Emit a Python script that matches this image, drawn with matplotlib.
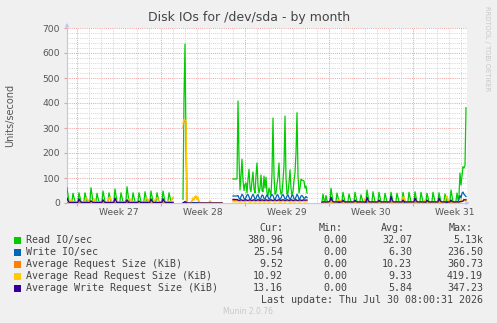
import numpy as np
import matplotlib
matplotlib.use("Agg")
import matplotlib.pyplot as plt
from matplotlib.transforms import blended_transform_factory

# one value every 2 hours, 400 steps, None = no data
read_io = [
    61, 34, 6, 3, 3, 8,  39, 21, 5, 3, 3, 8,  41, 22, 5, 3, 3, 8,
    41, 23, 5, 3, 4, 10,  61, 33, 6, 3, 3, 8,  39, 20, 5, 3, 4, 9,
    48, 26, 5, 3, 3, 8,  41, 22, 5, 3, 4, 10,  56, 30, 6, 3, 3, 8,
    41, 22, 5, 3, 4, 12,  65, 35, 6, 3, 3, 8,  41, 22, 5, 3, 3, 8,
    41, 22, 5, 3, 3, 9,  45, 24, 5, 3, 3, 9,  48, 26, 5, 3, 3, 8,
    41, 22, 5, 3, 3, 9,  48, 26, 5, 3, 3, 8,  41, 22, 5, 3, 3,
] + [None] * 9 + [
    15, 420, 636, 240, 2, 0,
    0, 0, 0, 0, 0, 0, 0, 0, 0, 0, 0, 0, 0, 0, 0, 0, 0,
    0, 0, 0, 0, 0, 0, 0, 0, 0, 0, 0, 0, 0, 0, 0, 0, 0,
] + [None] * 10 + [
    96, 96, 96, 96, 96,  408, 180, 52, 110, 175,  90, 50, 75, 80, 40,
    95, 135, 60, 45, 90,  124, 55, 40, 110, 160,  70, 40, 60, 112, 50,
    45, 108, 60, 103, 40,  30, 60, 45, 30, 120,  340, 110, 35, 40, 75,
    105, 160, 60, 35, 40,  90, 150, 348, 100, 35,  40, 80, 133, 60, 30,
    45, 90, 120, 200, 361,  110, 40, 60, 95, 92,  90, 88, 60, 68, 40,
] + [None] * 14 + [
    5, 36, 12, 4, 30, 10, 3, 3, 10,
    59, 32, 5, 3, 3, 8,  40, 22, 5, 3, 3, 8,  43, 24, 5, 3, 3, 8,
    36, 20, 5, 3, 3, 8,  43, 24, 5, 3, 3, 8,  33, 18, 5, 3, 3, 9,
    52, 28, 5, 3, 3, 8,  45, 25, 5, 3, 3, 8,  43, 24, 5, 3, 3, 8,
    39, 21, 5, 3, 3, 8,  43, 24, 5, 3, 3, 8,  39, 21, 5, 3, 3, 8,
    43, 24, 5, 3, 3, 8,  43, 24, 5, 3, 3, 8,  45, 25, 5, 3, 3, 8,
    43, 24, 5, 3, 3, 8,  39, 21, 5, 3, 3, 8,  43, 24, 5, 3, 3, 8,
    41, 22, 5, 3, 3, 8,  36, 20, 5, 3, 3, 9,  52, 28, 5, 3, 3, 8,
    40, 12, 30, 120, 72, 110, 145, 140, 150, 380.96,
]

write_io = [
    4, 2, 1, 1, 1, 1,  2, 1, 1, 1, 1, 1,  3, 2, 1, 1, 1, 1,
    2, 1, 1, 1, 1, 1,  3, 2, 1, 1, 1, 1,  2, 1, 1, 1, 1, 1,
    3, 2, 1, 1, 1, 1,  2, 1, 1, 1, 1, 1,  4, 2, 1, 1, 1, 1,
    2, 1, 1, 1, 1, 1,  3, 2, 1, 1, 1, 1,  2, 1, 1, 1, 1, 1,
    3, 2, 1, 1, 1, 1,  2, 1, 1, 1, 1, 1,  3, 2, 1, 1, 1, 1,
    2, 1, 1, 1, 1, 1,  3, 2, 1, 1, 1, 1,  2, 1, 1, 1, 1,
] + [None] * 9 + [
    0, 1, 1, 1, 0, 0,
    0, 0, 0, 0, 0, 0, 0, 0, 0, 0, 0, 0, 0, 0, 0, 0, 0,
    0, 0, 0, 0, 0, 0, 0, 0, 0, 0, 0, 0, 0, 0, 0, 0, 0,
] + [None] * 10 + [
    28, 28, 28, 28, 28,  30, 20, 15, 25, 35,  30, 18, 14, 22, 32,
    34, 24, 15, 16, 28,  35, 26, 15, 18, 30,  34, 22, 14, 20, 32,
    30, 18, 15, 26, 33,  24, 15, 18, 28, 34,  30, 18, 14, 22, 33,
    32, 20, 14, 20, 30,  34, 26, 16, 17, 28,  33, 22, 14, 20, 32,
    30, 18, 15, 24, 35,  28, 16, 18, 28, 30,  25, 18, 20, 26, 22,
] + [None] * 14 + [
    2, 4, 2, 2, 3, 2, 2, 2, 3,
    7, 3, 2, 2, 2, 2,  4, 3, 2, 2, 2, 2,  5, 3, 2, 2, 2, 2,
    4, 2, 2, 2, 2, 2,  5, 3, 2, 2, 2, 2,  4, 2, 2, 2, 2, 2,
    7, 3, 2, 2, 2, 2,  4, 3, 2, 2, 2, 2,  5, 3, 2, 2, 2, 2,
    4, 2, 2, 2, 2, 2,  7, 3, 2, 2, 2, 2,  4, 2, 2, 2, 2, 2,
    5, 3, 2, 2, 2, 2,  4, 2, 2, 2, 2, 2,  7, 3, 2, 2, 2, 2,
    4, 2, 2, 2, 2, 2,  5, 3, 2, 2, 2, 2,  4, 2, 2, 2, 2, 2,
    7, 3, 2, 2, 2, 2,  4, 2, 2, 2, 2, 2,  5, 3, 2, 2, 2, 3,
    4, 5, 15, 30, 20, 38, 44, 35, 30, 25.54,
]

avg_req = [
    14, 7, 3, 5, 11, 7,  3, 3, 3, 3, 3, 3,  11, 6, 3, 3, 3, 3,
    7, 15, 17, 10, 4, 3,  6, 4, 5, 14, 8, 3,  3, 3, 3, 3, 3, 3,
    9, 5, 3, 3, 4, 7,  18, 20, 12, 4, 3, 3,  13, 7, 8, 4, 3, 3,
    3, 3, 3, 3, 3, 3,  10, 12, 13, 12, 13, 5,  3, 3, 3, 3, 3, 3,
    6, 3, 3, 3, 3, 3,  5, 15, 17, 12, 4, 3,  11, 6, 3, 3, 10, 17,
    16, 13, 4, 3, 3, 3,  12, 6, 3, 3, 4, 8,  4, 3, 4, 15, 20,
] + [None] * 9 + [
    300, 330, 330, 320, 6, 2,  0, 0, 2, 8, 18, 12,  22, 26, 15, 21, 5, 1,
    0, 0, 0, 0, 0, 0,  0, 0, 2, 7, 4, 0,  0, 0, 0, 0, 0, 0, 0, 0, 0, 0,
] + [None] * 10 + [
    10, 10, 10, 10, 10,  9, 8, 8, 9, 10,  9, 8, 8, 10, 11,
    10, 9, 8, 9, 9,  10, 10, 8, 9, 10,  11, 9, 8, 9, 10,
    10, 8, 9, 10, 10,  9, 8, 9, 10, 11,  9, 9, 8, 9, 10,
    10, 9, 8, 9, 10,  9, 9, 8, 9, 11,  10, 9, 8, 9, 10,
    9, 8, 9, 10, 10,  9, 9, 8, 9, 11,  10, 9, 9, 10, 10,
] + [None] * 14 + [
    3, 4, 3, 3, 3, 3, 3, 3, 5,
    15, 8, 4, 3, 3, 3,  5, 10, 11, 9, 3, 3,  8, 5, 3, 3, 3, 3,
    4, 3, 3, 3, 3, 3,  8, 5, 3, 3, 3, 3,  4, 3, 3, 3, 15, 17,
    20, 9, 4, 3, 3, 3,  4, 3, 3, 3, 3, 3,  8, 5, 3, 3, 3, 3,
    4, 3, 3, 3, 3, 3,  18, 9, 4, 3, 3, 3,  4, 3, 3, 3, 3, 3,
    18, 20, 8, 3, 3, 3,  4, 3, 3, 3, 3, 3,  17, 8, 4, 3, 3, 3,
    4, 3, 3, 3, 10, 5,  8, 5, 3, 3, 3, 3,  4, 3, 3, 3, 3, 3,
    14, 7, 4, 3, 3, 3,  5, 22, 24, 8, 3, 3,  8, 5, 3, 3, 3, 3,
    4, 3, 3, 5, 12, 7, 6, 10, 9, 9.52,
]

avg_read_req = [
    4, 5, 3, 6, 13, 8,  3, 3, 3, 3, 3, 3,  5, 4, 3, 3, 3, 3,
    8, 18, 20, 12, 4, 3,  4, 3, 6, 17, 9, 3,  3, 3, 3, 3, 3, 3,
    5, 3, 3, 3, 4, 8,  22, 24, 15, 4, 3, 3,  4, 6, 10, 4, 3, 3,
    3, 3, 3, 3, 3, 3,  5, 14, 16, 15, 16, 6,  3, 3, 3, 3, 3, 3,
    4, 3, 3, 3, 3, 3,  6, 18, 20, 14, 4, 3,  4, 3, 3, 3, 12, 20,
    19, 16, 5, 3, 3, 3,  4, 3, 3, 3, 5, 9,  4, 3, 5, 18, 24,
] + [None] * 9 + [
    320, 335, 332, 330, 8, 3,  0, 0, 3, 10, 22, 14,  26, 30, 18, 25, 6, 2,
    0, 0, 0, 0, 0, 0,  0, 0, 3, 9, 5, 0,  0, 0, 0, 0, 0, 0, 0, 0, 0, 0,
] + [None] * 10 + [
    5, 5, 5, 5, 5,  6, 4, 3, 4, 6,  5, 4, 3, 5, 7,
    6, 4, 3, 4, 5,  6, 5, 3, 4, 6,  7, 4, 3, 5, 6,
    5, 3, 4, 6, 5,  4, 3, 4, 6, 7,  5, 4, 3, 5, 6,
    6, 4, 3, 4, 6,  5, 4, 3, 5, 7,  6, 4, 3, 4, 6,
    5, 3, 4, 6, 6,  5, 4, 3, 5, 7,  6, 4, 4, 5, 5,
] + [None] * 14 + [
    2, 4, 3, 2, 3, 2, 2, 2, 4,
    6, 4, 2, 2, 2, 2,  5, 12, 13, 11, 3, 2,  4, 3, 2, 2, 2, 2,
    4, 3, 2, 2, 2, 2,  4, 3, 2, 2, 2, 2,  4, 3, 2, 2, 18, 20,
    19, 8, 2, 2, 2, 2,  4, 3, 2, 2, 2, 2,  4, 3, 2, 2, 2, 2,
    4, 3, 2, 2, 2, 2,  16, 8, 2, 2, 2, 2,  4, 3, 2, 2, 2, 2,
    24, 25, 10, 2, 2, 2,  4, 3, 2, 2, 2, 2,  19, 8, 2, 2, 2, 2,
    4, 3, 2, 2, 12, 6,  4, 3, 2, 2, 2, 2,  4, 3, 2, 2, 2, 2,
    4, 3, 2, 2, 2, 2,  6, 26, 28, 10, 2, 2,  4, 3, 2, 2, 2, 2,
    4, 3, 2, 5, 15, 8, 6, 12, 9, 10.92,
]

avg_write_req = [
    20, 10, 3, 2, 2, 2,  3, 2, 2, 2, 2, 3,  17, 8, 3, 2, 2, 2,
    3, 2, 2, 2, 2, 3,  9, 5, 2, 2, 2, 2,  3, 2, 2, 2, 2, 3,
    13, 6, 2, 2, 2, 2,  3, 2, 2, 2, 2, 3,  20, 9, 3, 2, 2, 2,
    3, 2, 2, 2, 2, 3,  13, 6, 2, 2, 2, 2,  3, 2, 2, 2, 2, 3,
    8, 4, 2, 2, 2, 2,  3, 2, 2, 2, 2, 3,  16, 8, 3, 2, 2, 2,
    3, 2, 2, 2, 2, 3,  17, 8, 3, 2, 2, 2,  3, 2, 2, 2, 2,
] + [None] * 9 + [
    1, 3, 6, 3, 0, 0,
    0, 0, 0, 0, 0, 0, 0, 0, 0, 0, 0, 0, 0, 0, 0, 0, 0,
    0, 0, 0, 0, 0, 0, 0, 0, 0, 0, 0, 0, 0, 0, 0, 0, 0,
] + [None] * 10 + [
    14, 14, 14, 14, 14,  12, 10, 11, 13, 12,  10, 11, 12, 13, 11,
    10, 12, 13, 11, 10,  12, 13, 11, 10, 12,  13, 12, 10, 11, 13,
    12, 10, 11, 13, 12,  10, 11, 12, 13, 11,  10, 12, 13, 11, 10,
    12, 13, 11, 10, 12,  13, 12, 10, 11, 13,  12, 10, 11, 13, 12,
    10, 11, 12, 13, 11,  10, 12, 13, 11, 10,  12, 13, 11, 12, 12,
] + [None] * 14 + [
    3, 5, 4, 4, 4, 4, 4, 5, 8,
    23, 11, 5, 4, 4, 4,  5, 4, 4, 4, 4, 4,  12, 6, 4, 4, 4, 4,
    5, 4, 4, 4, 4, 4,  12, 6, 4, 4, 4, 4,  5, 4, 4, 4, 4, 4,
    23, 11, 5, 4, 4, 4,  5, 4, 4, 4, 4, 4,  12, 6, 4, 4, 4, 4,
    5, 4, 4, 4, 4, 4,  26, 12, 5, 4, 4, 4,  5, 4, 4, 4, 4, 4,
    12, 6, 4, 4, 4, 4,  5, 4, 4, 4, 4, 4,  20, 10, 5, 4, 4, 4,
    5, 4, 4, 4, 4, 4,  12, 6, 4, 4, 4, 4,  5, 4, 4, 4, 4, 4,
    20, 10, 5, 4, 4, 4,  5, 4, 4, 4, 4, 4,  12, 6, 4, 4, 4, 4,
    5, 4, 4, 6, 5, 7, 8, 14, 12, 13.16,
]

series_names = ["Read IO/sec", "Write IO/sec", "Average Request Size (KiB)",
                "Average Read Request Size (KiB)", "Average Write Request Size (KiB)"]
series_colors = ["#00CC00", "#0066B3", "#FF8000", "#FFCC00", "#330099"]
cur_vals = ["380.96", "25.54", "9.52", "10.92", "13.16"]
min_vals = ["0.00", "0.00", "0.00", "0.00", "0.00"]
avg_vals = ["32.07", "6.30", "10.23", "9.33", "5.84"]
max_vals = ["5.13k", "236.50", "360.73", "419.19", "347.23"]
week_labels = ["Week 27", "Week 28", "Week 29", "Week 30", "Week 31"]
week_starts = [20, 188, 356, 524, 692]   # hours from graph start

W, H = 497, 323
fig = plt.figure(figsize=(W / 100, H / 100), dpi=100, facecolor="#F0F0F0")
ax = fig.add_axes([67 / W, 1 - 203 / H, 400 / W, 175 / H], facecolor="white")

hours = np.arange(len(read_io)) * 2
all_series = [read_io, write_io, avg_req, avg_read_req, avg_write_req]
for vals, col in zip(all_series, series_colors):
    ax.plot(hours, np.array(vals, dtype=float), color=col, lw=0.9, zorder=3)

ax.set_xlim(0, 800)
ax.set_ylim(0, 700)

grey = "#555555"
ax.set_yticks(np.arange(0, 701, 100))
ax.set_yticks(np.arange(0, 701, 20), minor=True)
ax.set_xticks(week_starts)
ax.set_xticks(np.arange(20, 800, 24), minor=True)
ax.set_xticklabels([])
ax.tick_params(axis="y", which="major", labelsize=6.6, labelcolor=grey,
               length=2, color="#E0A0A0", pad=3)
ax.tick_params(axis="x", which="major", length=2, color="#E0A0A0")
ax.tick_params(which="minor", length=0)
ax.grid(True, which="minor", color="#D4D4D4", lw=0.7, ls=(0, (1, 1.2)), zorder=1)
ax.grid(True, which="major", color="#E8A0A0", lw=0.7, ls=(0, (1, 1.2)), zorder=2)
ax.set_axisbelow(True)

tr = blended_transform_factory(ax.transData, ax.transAxes)
for ws, lab in zip(week_starts, week_labels):
    ax.text(ws + 84, -0.03, lab, transform=tr, ha="center", va="top",
            fontsize=6.6, color=grey)

for s in ["top", "right"]:
    ax.spines[s].set_visible(False)
for s in ["left", "bottom"]:
    ax.spines[s].set_color("#C4C4F0")
    ax.spines[s].set_linewidth(0.8)
ax.annotate("", xy=(0, 1.045), xytext=(0, 0.99), xycoords="axes fraction",
            arrowprops=dict(arrowstyle="-|>", color="#C4C4F0", lw=0.8, mutation_scale=5))
ax.annotate("", xy=(1.014, 0), xytext=(0.99, 0), xycoords="axes fraction",
            arrowprops=dict(arrowstyle="-|>", color="#C4C4F0", lw=0.8, mutation_scale=5))

fig.text(249 / W, 1 - 18 / H, "Disk IOs for /dev/sda - by month", ha="center",
         va="center", fontsize=9, color="#444444")
fig.text(10 / W, 1 - 115 / H, "Units/second", rotation=90, ha="center",
         va="center", fontsize=7, color=grey)
fig.text(487 / W, 1 - 6 / H, "RRDTOOL / TOBI OETIKER", rotation=270, ha="center",
         va="top", fontsize=4.8, color="#C8C8C8")

mono = dict(family="DejaVu Sans Mono", fontsize=7.2, color="#444444", va="center")
for hx, htxt in zip([283, 343, 405, 473], ["Cur:", "Min:", "Avg:", "Max:"]):
    fig.text(hx / W, 1 - 228 / H, htxt, ha="right", **mono)
for k, name in enumerate(series_names):
    yy = 1 - (240 + 12 * k) / H
    fig.patches.append(plt.Rectangle((14 / W, yy - 3.5 / H), 7 / W, 7 / H,
                                     transform=fig.transFigure,
                                     facecolor=series_colors[k], edgecolor="none"))
    fig.text(26 / W, yy, name, ha="left", **mono)
    fig.text(283 / W, yy, cur_vals[k], ha="right", **mono)
    fig.text(347 / W, yy, min_vals[k], ha="right", **mono)
    fig.text(412 / W, yy, avg_vals[k], ha="right", **mono)
    fig.text(483 / W, yy, max_vals[k], ha="right", **mono)
fig.text(483 / W, 1 - 300 / H, "Last update: Thu Jul 30 08:00:31 2026", ha="right", **mono)
fig.text(248 / W, 1 - 312 / H, "Munin 2.0.76", ha="center", va="center",
         fontsize=5.5, color="#C8C8C8")

fig.savefig("out.png", dpi=100, facecolor=fig.get_facecolor())
